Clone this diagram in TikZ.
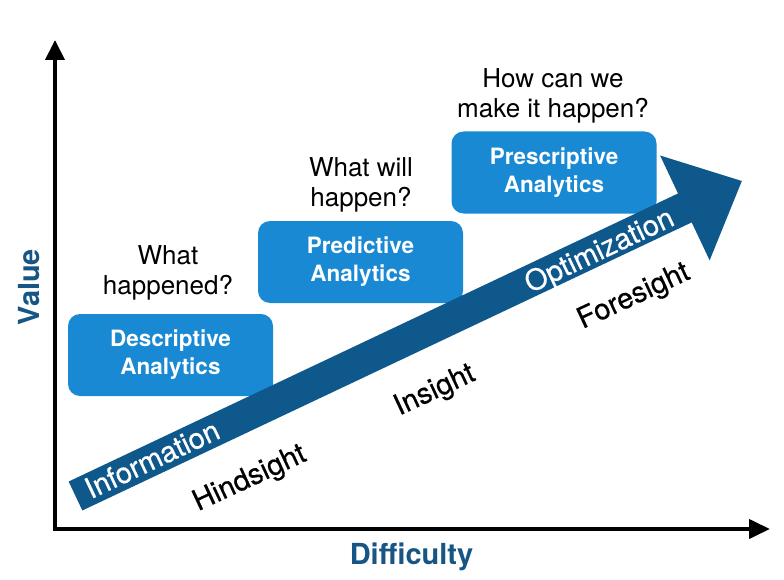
\documentclass[tikz,border=0pt]{standalone}
\usepackage{fontspec}
\setmainfont{TeX Gyre Heros}
\newfontfamily\mediumheros[FakeBold=0.5]{TeX Gyre Heros}
\usetikzlibrary{arrows.meta}
\definecolor{boxblue}{RGB}{26,137,212}
\definecolor{arrowblue}{RGB}{15,88,140}
\definecolor{axisblue}{RGB}{23,86,132}
\begin{document}
\begin{tikzpicture}[x=1pt,y=-1pt,
  abox/.style={fill=boxblue, rounded corners=12pt, minimum width=205pt, minimum height=82pt, inner sep=0pt, text=white, align=center, font=\fontsize{22.5}{28}\selectfont\bfseries},
  question/.style={align=center, inner sep=0pt, font=\fontsize{26}{30}\selectfont},
  hint/.style={rotate=25, inner sep=0pt, font=\fontsize{29}{34}\selectfont\mediumheros},
  onarrow/.style={rotate=25.3, inner sep=0pt, text=white, font=\fontsize{29}{34}\selectfont\mediumheros},
  axistitle/.style={text=axisblue, inner sep=0pt, font=\fontsize{29}{34}\selectfont\bfseries},
  axisline/.style={line width=4pt, line join=miter, {Triangle[width=19pt,length=20pt]}-{Triangle[width=19pt,length=21pt]}}
]
\useasboundingbox (0,0) rectangle (784,580);
% axes
\coordinate (ytop) at (55,40);
\coordinate (origin) at (55,529);
\coordinate (xend) at (770,529);
\draw[axisline] (ytop) -- (origin) -- (xend);
\node[axistitle, rotate=90] (value) at (29,287) {Value};
\node[axistitle] (difficulty) at (411.5,556.5) {Difficulty};
% boxes
\node[abox] (desc) at (170.5,355) {Descriptive\\Analytics};
\node[abox] (pred) at (360.5,262) {Predictive\\Analytics};
\node[abox] (presc) at (554,172.5) {Prescriptive\\Analytics};
% questions
\node[question] (q1) at (168,273) {What\\happened?};
\node[question] (q2) at (361,185) {What will\\happen?};
\node[question] (q3) at (553,96) {How can we\\make it happen?};
% big arrow
\fill[arrowblue] (68.66,481.53) -- (678.02,193.46) -- (660.07,155.49) -- (741.82,181.0)
  -- (709.65,260.37) -- (691.70,222.40) -- (82.34,510.47) -- cycle;
\node[onarrow] (information) at (152,459) {Information};
\node[onarrow] (optimization) at (600,252) {Optimization};
% labels below arrow
\node[hint] (hindsight) at (250,479) {Hindsight};
\node[hint] (insight) at (435,391) {Insight};
\node[hint] (foresight) at (634,297) {Foresight};
\end{tikzpicture}
\end{document}
